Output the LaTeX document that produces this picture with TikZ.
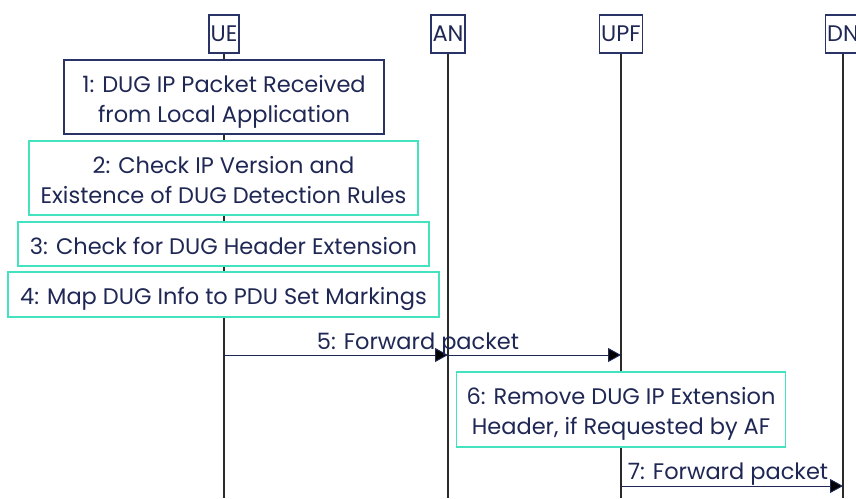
\documentclass[tikz,border=0pt]{standalone}
\usepackage{fontspec}
\setmainfont{Poppins}
\usetikzlibrary{arrows.meta}
\definecolor{navy}{HTML}{1F2754}
\definecolor{boxline}{HTML}{2A3366}
\definecolor{tealline}{HTML}{44E3C0}
\definecolor{life}{HTML}{2A2A2A}
\newcommand{\lowtext}[1]{\raisebox{-4pt}[\height][\depth]{\begin{tabular}{@{}c@{}}#1\end{tabular}}}
\tikzset{
  txt/.style={text=navy, font=\fontsize{22.5}{30}\selectfont, align=center},
  actor/.style={txt, draw=boxline, line width=1.3pt, fill=white, minimum height=38pt, inner sep=1.5pt},
  navybox/.style={txt, draw=boxline, line width=1.3pt, fill=white, inner sep=0pt},
  tealbox/.style={txt, draw=tealline, line width=1.6pt, fill=white, inner sep=0pt},
  lifeline/.style={draw=life, line width=1.2pt},
  msg/.style={draw=navy, line width=1pt, -{Triangle[length=13pt,width=14pt,fill=black]}},
  msglabel/.style={txt}
}
\begin{document}
\begin{tikzpicture}[x=1pt,y=-1pt]
\useasboundingbox (0,0) rectangle (856,498);
\fill[white] (0,0) rectangle (856,498);
% actors
\node[actor] (ue)  at (224,34) {UE};
\node[actor] (an)  at (448,34) {AN};
\node[actor] (upf) at (621,34) {UPF};
\node[actor] (dn)  at (843,34) {DN};
\coordinate (ueend)  at (224,498);
\coordinate (anend)  at (448,498);
\coordinate (upfend) at (621,498);
\coordinate (dnend)  at (843,498);
\draw[lifeline] (ue.south) -- (ueend);
\draw[lifeline] (an.south) -- (anend);
\draw[lifeline] (upf.south) -- (upfend);
\draw[lifeline] (dn.south) -- (dnend);
% UE steps
\node[navybox, minimum width=320pt, minimum height=74pt] (s1) at (224,97) {\lowtext{1: DUG IP Packet Received\\from Local Application}};
\node[tealbox, minimum width=389pt, minimum height=74pt] (s2) at (223.5,178) {\lowtext{2: Check IP Version and\\Existence of DUG Detection Rules}};
\node[tealbox, minimum width=411pt, minimum height=44pt] (s3) at (223.5,244) {\lowtext{3: Check for DUG Header Extension}};
\node[tealbox, minimum width=431pt, minimum height=45pt] (s4) at (223.5,294.5) {\lowtext{4: Map DUG Info to PDU Set Markings}};
% message 5
\coordinate (m5a) at (224,355);
\coordinate (m5b) at (448,355);
\coordinate (m5c) at (621,355);
\draw[msg] (m5a) -- (m5b);
\draw[msg] (m5b) -- (m5c);
\node[msglabel] (l5) at (418,339) {\lowtext{5: Forward packet}};
% step 6
\node[tealbox, minimum width=329pt, minimum height=75pt] (s6) at (621,409.5) {\lowtext{6: Remove DUG IP Extension\\Header, if Requested by AF}};
% message 7
\coordinate (m7a) at (621,486);
\coordinate (m7b) at (843,486);
\draw[msg] (m7a) -- (m7b);
\node[msglabel] (l7) at (728,469) {\lowtext{7: Forward packet}};
\end{tikzpicture}
\end{document}
